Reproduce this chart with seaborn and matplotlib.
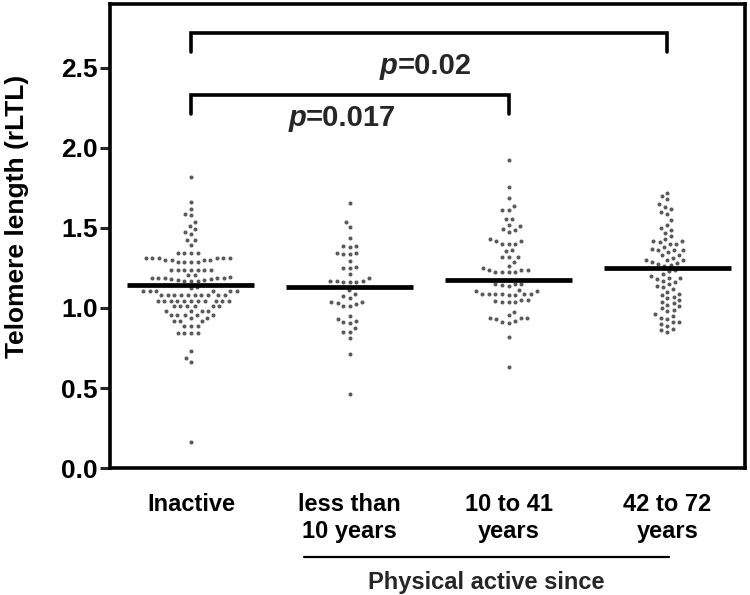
import matplotlib
matplotlib.use("Agg")
import matplotlib.pyplot as plt
import seaborn as sns
import pandas as pd
from matplotlib import font_manager

# values (rLTL)
categories = ["Inactive", "less than\n10 years", "10 to 41\nyears", "42 to 72\nyears"]

inactive = [1.82, 1.665, 1.62, 1.59, 1.58, 1.535, 1.515, 1.495, 1.475, 1.465, 1.425, 1.425, 1.395,
            1.345, 1.345, 1.345, 1.345,
            1.315, 1.315, 1.315, 1.31, 1.31, 1.31, 1.30, 1.30, 1.30, 1.30, 1.29, 1.29, 1.29, 1.29,
            1.24, 1.24, 1.24, 1.24, 1.24, 1.24, 1.24,
            1.205, 1.205, 1.195, 1.185, 1.185, 1.185, 1.185, 1.185, 1.18, 1.18, 1.175, 1.175,
            1.17, 1.17, 1.17,
            1.13, 1.125, 1.105, 1.105, 1.105, 1.105, 1.105, 1.105,
            1.08, 1.08, 1.08, 1.08, 1.08, 1.08, 1.08, 1.08, 1.08, 1.08,
            1.045, 1.045, 1.045, 1.045, 1.045, 1.045, 1.045, 1.045, 1.045, 1.045, 1.045,
            1.01, 1.01, 1.01, 1.01, 1.01, 1.01,
            0.98, 0.98, 0.98, 0.98,
            0.955, 0.955, 0.955, 0.955, 0.955,
            0.94, 0.94, 0.92, 0.92, 0.92, 0.89, 0.89, 0.89,
            0.845, 0.845, 0.845, 0.845, 0.73, 0.685, 0.66, 0.16]

less_than_10 = [1.655, 1.535, 1.505, 1.435, 1.39, 1.385, 1.38, 1.345, 1.34, 1.34, 1.345, 1.295,
                1.255, 1.25, 1.25, 1.21, 1.185, 1.17, 1.165, 1.16, 1.17, 1.165, 1.17,
                1.11, 1.09, 1.075, 1.065, 1.04, 1.04, 1.033, 1.023, 1.012, 1.012,
                0.952, 0.931, 0.921, 0.91, 0.904, 0.873, 0.852, 0.852, 0.812, 0.712, 0.46]

years_10_41 = [1.925, 1.755, 1.69, 1.635, 1.61, 1.61, 1.555, 1.555, 1.52, 1.51, 1.495, 1.49, 1.475,
               1.43, 1.42, 1.40, 1.40, 1.40, 1.42, 1.36, 1.355, 1.32, 1.32, 1.32, 1.29, 1.265,
               1.25, 1.24, 1.235, 1.225, 1.225, 1.225, 1.225, 1.235,
               1.15, 1.15, 1.145, 1.15, 1.14, 1.11, 1.105, 1.105, 1.09, 1.09, 1.085, 1.085,
               1.08, 1.08, 1.085, 1.09, 1.05, 1.04, 1.045, 1.05, 1.035, 1.04,
               0.975, 0.955, 0.94, 0.935, 0.93, 0.92, 0.935, 0.905, 0.91, 0.82, 0.63]

years_42_72 = [1.72, 1.70, 1.68, 1.65, 1.63, 1.62, 1.60, 1.59, 1.55, 1.52, 1.50, 1.49, 1.47, 1.45,
               1.43, 1.42, 1.42, 1.41, 1.40, 1.40, 1.38, 1.37, 1.36, 1.36, 1.36, 1.35, 1.33, 1.33,
               1.31, 1.30, 1.30, 1.30, 1.29, 1.28, 1.275, 1.27, 1.26,
               1.24, 1.23, 1.21, 1.20, 1.19, 1.185, 1.18, 1.17, 1.16, 1.15, 1.14, 1.13, 1.12,
               1.10, 1.09, 1.08, 1.07, 1.06, 1.05, 1.04, 1.03, 1.02, 1.01, 1.0, 0.99, 0.98,
               0.96, 0.95, 0.94, 0.93, 0.91, 0.91, 0.90, 0.89, 0.87, 0.86, 0.85]

medians = [1.144, 1.129, 1.175, 1.25]

# significance brackets: (left group, right group, bar height, p label)
brackets = [(0, 3, 2.72, "0.02"), (0, 2, 2.33, "0.017")]

groups = [inactive, less_than_10, years_10_41, years_42_72]
df = pd.DataFrame({
    "group": [c for c, vals in zip(categories, groups) for _ in vals],
    "rltl": [v for vals in groups for v in vals],
})

sns.set_theme(style="white")
names = {f.name for f in font_manager.fontManager.ttflist}
narrow = "Liberation Sans Narrow" if "Liberation Sans Narrow" in names else "Liberation Sans"
plt.rcParams["font.family"] = ["Liberation Sans", "DejaVu Sans"]

fig = plt.figure(figsize=(7.5, 5.95), dpi=100)
ax = fig.add_axes([0.1467, 0.2134, 0.8467, 0.78])

sns.swarmplot(data=df, x="group", y="rltl", order=categories, ax=ax,
              color="#5a5a5a", size=2.9, linewidth=1.6, edgecolor=(1, 1, 1, 0), zorder=2)

ax.hlines(medians, [i - 0.4 for i in range(4)], [i + 0.4 for i in range(4)],
          color="black", lw=3.4, zorder=3)

for x0, x1, h, p in brackets:
    ax.plot([x0, x0, x1, x1], [h - 0.12, h, h, h - 0.12], color="black", lw=2.6,
            solid_joinstyle="miter", clip_on=False)

ax.text(1.30, 2.51, "p", style="italic", fontweight="bold", fontsize=21,
        ha="right", va="center", family=narrow)
ax.text(1.30, 2.51, "=0.02", fontweight="bold", fontsize=21, ha="left", va="center", family=narrow)
ax.text(0.725, 2.19, "p", style="italic", fontweight="bold", fontsize=21,
        ha="right", va="center", family=narrow)
ax.text(0.725, 2.19, "=0.017", fontweight="bold", fontsize=21, ha="left", va="center", family=narrow)

ax.set_xlim(-0.51, 3.49)
ax.set_ylim(0, 2.9)
ax.set_yticks([0, 0.5, 1.0, 1.5, 2.0, 2.5])
ax.set_yticklabels(["0.0", "0.5", "1.0", "1.5", "2.0", "2.5"])
ax.set_xlabel("")
ax.set_ylabel("Telomere length (rLTL)", fontsize=19, fontweight="bold", color="black")
ax.yaxis.set_label_coords(-0.128, 0.543)

for lab in ax.get_yticklabels():
    lab.set_family(narrow)
    lab.set_fontweight("bold")
    lab.set_fontsize(19)
    lab.set_color("black")
for lab in ax.get_xticklabels():
    lab.set_family(narrow)
    lab.set_fontweight("bold")
    lab.set_fontsize(17)
    lab.set_color("black")
ax.tick_params(axis="y", direction="out", length=7, width=2.2, pad=2, left=True)
ax.tick_params(axis="x", length=0, pad=18)

for sp in ax.spines.values():
    sp.set_visible(True)
    sp.set_color("black")
    sp.set_linewidth(2.6)

# group label underline for the active groups
xt = ax.get_xaxis_transform()
ax.plot([0.71, 3.01], [-0.192, -0.192], color="black", lw=1.6, transform=xt, clip_on=False)
ax.text(1.86, -0.246, "Physical active since", transform=xt, ha="center", va="center",
        fontsize=17, fontweight="bold", family=narrow)

fig.savefig("out.png", dpi=100)
